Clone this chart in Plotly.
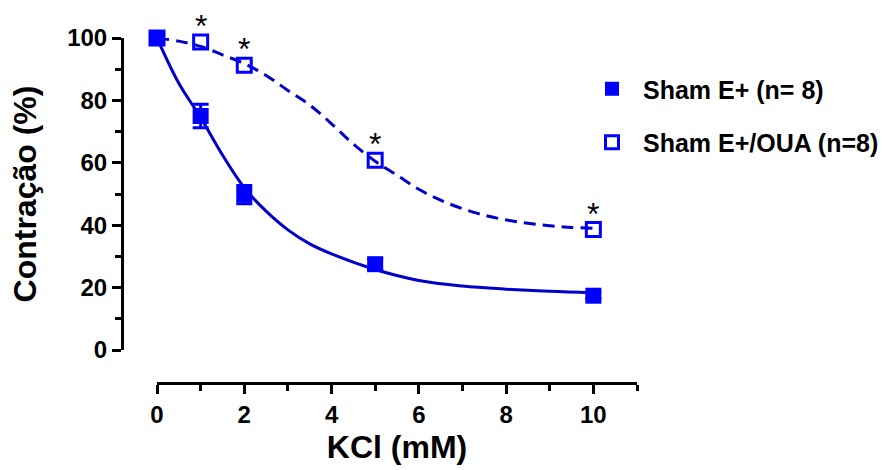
import plotly.graph_objects as go

# ---- data ----
kcl = [0, 1, 2, 5, 10]
sham_e = [100, 75.0, 49.8, 27.5, 17.4]
sham_e_err = [0, 3.8, 2.9, 1.8, 1.0]
sham_oua = [100, 98.7, 91.3, 60.8, 38.6]
sig_x = [1, 2, 5, 10]
sig_y = [98.7, 91.3, 60.8, 38.6]

# fitted curves
fit_x = [0, 0.5, 1, 1.5, 2, 2.5, 3, 3.5, 4, 5, 6, 7, 8, 9, 10]
fit_e = [100, 85.5, 74.5, 62.5, 52.0, 44.5, 38.5, 34.0, 30.8, 25.8, 22.3, 20.5, 19.5, 18.8, 18.3]
fit_x2 = [0, 0.5, 1, 1.5, 2, 2.5, 3, 3.5, 4, 4.5, 5, 5.5, 6, 6.5, 7, 7.5, 8, 8.5, 9, 9.5, 10]
fit_oua = [100, 99.0, 97.3, 94.6, 91.8, 88.0, 83.2, 78.5, 72.5, 66.0, 60.5, 56.0, 51.5,
           48.0, 45.3, 43.2, 41.7, 40.6, 39.8, 39.3, 39.0]

x_ticks = [0, 2, 4, 6, 8, 10]
y_ticks = [0, 20, 40, 60, 80, 100]

BLUE = "#0000FF"
LINE = "#0000C8"
FONT = "Arial, Liberation Sans, sans-serif"

fig = go.Figure()
fig.add_trace(go.Scatter(x=fit_x, y=fit_e, mode="lines", line=dict(color=LINE, width=3, shape="spline"),
                         showlegend=False, hoverinfo="skip"))
fig.add_trace(go.Scatter(x=fit_x2, y=fit_oua, mode="lines",
                         line=dict(color=LINE, width=3, shape="spline", dash="12px,7px"),
                         showlegend=False, hoverinfo="skip"))
fig.add_trace(go.Scatter(x=kcl, y=sham_e, mode="markers", name="Sham E+ (n= 8)",
                         marker=dict(symbol="square", size=16, color=BLUE),
                         error_y=dict(type="data", array=sham_e_err, color=BLUE, thickness=3, width=8),
                         cliponaxis=False, showlegend=False))
fig.add_trace(go.Scatter(x=kcl, y=sham_oua, mode="markers", name="Sham E+/OUA (n=8)",
                         marker=dict(symbol="square-open", size=14, color=BLUE, line=dict(width=3, color=BLUE)),
                         cliponaxis=False, showlegend=False))
# legend entries (markers only)
fig.add_trace(go.Scatter(x=[None], y=[None], mode="markers", name="Sham E+ (n= 8)", legendgroup="a",
                         marker=dict(symbol="square", size=14, color=BLUE)))
fig.add_trace(go.Scatter(x=[None], y=[None], mode="markers", name="Sham E+/OUA (n=8)", legendgroup="b",
                         marker=dict(symbol="square-open", size=13, color=BLUE, line=dict(width=3, color=BLUE))))

for xs, ys in zip(sig_x, sig_y):
    fig.add_annotation(x=xs, y=ys, text="*", showarrow=False, yanchor="bottom", yshift=-4,
                       font=dict(family=FONT, size=32, color="black"))

W, H = 884, 470
ml, mr, mt, mb = 60, 24, 10, 10
pw, ph = W - ml - mr, H - mt - mb


def px_x(p):
    return (p - ml) / pw


def px_y(p):
    return (H - mb - p) / ph


fig.update_layout(
    width=W, height=H, margin=dict(l=ml, r=mr, t=mt, b=mb, autoexpand=False),
    paper_bgcolor="white", plot_bgcolor="white",
    font=dict(family=FONT, color="black"),
    xaxis=dict(domain=[px_x(157), px_x(637)], range=[0, 11], anchor="free", position=px_y(383),
               automargin=False,
               showgrid=False, zeroline=False, showline=True, linewidth=3, linecolor="black",
               tickmode="array", tickvals=x_ticks, ticktext=[str(v) for v in x_ticks],
               ticks="outside", ticklen=9, tickwidth=3, tickcolor="black",
               minor=dict(dtick=1, tick0=0, ticks="outside", ticklen=6, tickwidth=3, tickcolor="black", showgrid=False),
               tickfont=dict(family=FONT, size=24, weight=700),
               title=dict(text="KCl (mM)", font=dict(family=FONT, size=32, weight=700), standoff=8)),
    yaxis=dict(domain=[px_y(350), px_y(38)], range=[0, 100], anchor="free", position=px_x(122),
               automargin=False,
               showgrid=False, zeroline=False, showline=True, linewidth=3, linecolor="black",
               tickmode="array", tickvals=y_ticks, ticktext=[str(v) for v in y_ticks],
               ticks="outside", ticklen=9, tickwidth=3, tickcolor="black",
               minor=dict(dtick=10, tick0=0, ticks="outside", ticklen=6, tickwidth=3, tickcolor="black", showgrid=False),
               tickfont=dict(family=FONT, size=24, weight=700),
               title=dict(text="Contração (%)", font=dict(family=FONT, size=32, weight=700), standoff=19)),
    legend=dict(x=px_x(581), y=px_y(66), xanchor="left", yanchor="top", font=dict(family=FONT, size=25, weight=700),
                tracegroupgap=18, itemwidth=52, bgcolor="rgba(0,0,0,0)", itemclick=False),
    showlegend=True,
)

fig.write_html("out.html", config={"displayModeBar": False},
               post_script="document.body.style.margin='0';")
